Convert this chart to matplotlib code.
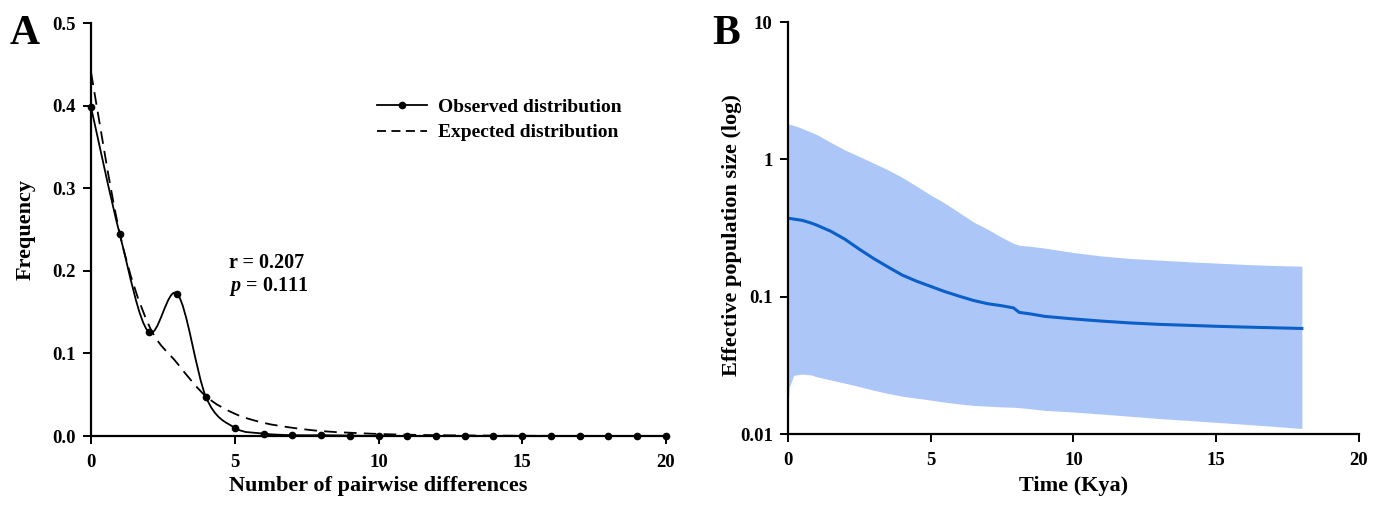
import numpy as np
import matplotlib
matplotlib.use("Agg")
import matplotlib.pyplot as plt
from matplotlib.path import Path
from matplotlib.patches import PathPatch
from matplotlib.lines import Line2D

plt.rcParams['font.family'] = ['Liberation Serif', 'DejaVu Serif']
plt.rcParams['font.weight'] = 'bold'
plt.rcParams['mathtext.fontset'] = 'custom'
plt.rcParams['mathtext.it'] = 'Liberation Serif:italic:bold'
plt.rcParams['mathtext.rm'] = 'Liberation Serif:bold'

# Panel A: mismatch distribution
diffs = list(range(21))
observed = [0.398, 0.244, 0.126, 0.172, 0.047, 0.010, 0.003, 0.001, 0.001, 0.0005,
            0.0, 0.0, 0.0, 0.0, 0.0, 0.0, 0.0, 0.0, 0.0, 0.0, 0.0]
expected = [0.44, 0.245, 0.135, 0.088, 0.048, 0.027, 0.016, 0.010, 0.006, 0.004,
            0.0025, 0.0016, 0.001, 0.0007, 0.0005, 0.0003, 0.0002, 0.0001, 0.0001, 0.0, 0.0]
r_value = 0.207
p_value = 0.111

# Panel B: Bayesian skyline (Kya, effective population size)
time_kya = [0.0, 0.05, 0.2, 0.5, 0.8, 1.0, 1.5, 2.0, 2.5, 3.0, 3.5, 4.0, 4.5, 5.0, 5.5,
            6.0, 6.5, 7.0, 7.5, 7.9, 8.1, 8.5, 9.0, 10.0, 11.0, 12.0, 13.0, 14.0,
            15.0, 16.0, 17.0, 18.0]
median_ne = [0.374, 0.372, 0.368, 0.360, 0.345, 0.333, 0.300, 0.262, 0.222, 0.190, 0.165,
             0.144, 0.130, 0.119, 0.109, 0.101, 0.094, 0.089, 0.086, 0.083, 0.077, 0.075,
             0.072, 0.069, 0.0665, 0.0645, 0.063, 0.062, 0.061, 0.0602, 0.0595, 0.0588]
upper_ne = [1.81, 1.80, 1.77, 1.68, 1.58, 1.52, 1.33, 1.17, 1.05, 0.94, 0.84, 0.74, 0.64,
            0.55, 0.48, 0.41, 0.35, 0.31, 0.27, 0.245, 0.237, 0.233, 0.226, 0.210, 0.198,
            0.190, 0.185, 0.180, 0.176, 0.172, 0.169, 0.167]
lower_ne = [0.0163, 0.022, 0.0268, 0.0274, 0.0270, 0.0262, 0.0248, 0.0235, 0.0222, 0.0209,
            0.0198, 0.0189, 0.0183, 0.0177, 0.0171, 0.0166, 0.0162, 0.0160, 0.0158, 0.0157,
            0.0156, 0.0153, 0.0149, 0.0145, 0.0140, 0.0135, 0.0130, 0.0126, 0.0122,
            0.0118, 0.0114, 0.0110]


def smooth_path(xs, ys):
    # Catmull-Rom style smoothing drawn as cubic Bezier segments
    pts = np.column_stack([xs, ys]).astype(float)
    verts = [pts[0]]
    codes = [Path.MOVETO]
    n = len(pts)
    for i in range(n - 1):
        p0 = pts[i - 1] if i > 0 else pts[i]
        p1 = pts[i]
        p2 = pts[i + 1]
        p3 = pts[i + 2] if i + 2 < n else pts[i + 1]
        c1 = p1 + (p2 - p0) / 6.0
        c2 = p2 - (p3 - p1) / 6.0
        verts += [c1, c2, p2]
        codes += [Path.CURVE4] * 3
    return Path(verts, codes)


TICK_FS = 13.5
LABEL_FS = 16

fig = plt.figure(figsize=(13.86, 5.12), dpi=100)
axA = fig.add_axes([0.0657, 0.1484, 0.4148, 0.8066])
axB = fig.add_axes([0.5685, 0.152, 0.412, 0.805])

for ax in (axA, axB):
    ax.spines['top'].set_visible(False)
    ax.spines['right'].set_visible(False)
    ax.spines['left'].set_linewidth(1.6)
    ax.spines['bottom'].set_linewidth(1.6)
    ax.tick_params(direction='out', length=6, width=1.4)
    ax.tick_params(axis='x', pad=7)
    ax.tick_params(axis='y', pad=5)

# --- Panel A ---
axA.add_patch(PathPatch(smooth_path(diffs, observed), fill=False, lw=1.3, color='black'))
axA.add_patch(PathPatch(smooth_path(diffs, expected), fill=False, lw=1.3, color='black',
                        linestyle=(0, (7, 4))))
axA.plot(diffs, observed, 'o', color='black', ms=4.5, clip_on=False, zorder=3)
axA.set_xlim(0, 20)
axA.set_ylim(0, 0.5)
axA.set_xticks([0, 5, 10, 15, 20])
axA.set_yticks([0.0, 0.1, 0.2, 0.3, 0.4, 0.5])
axA.set_yticklabels(['0.0', '0.1', '0.2', '0.3', '0.4', '0.5'], fontweight='bold', fontsize=TICK_FS)
axA.set_xticklabels(['0', '5', '10', '15', '20'], fontweight='bold', fontsize=TICK_FS)
axA.set_xlabel('Number of pairwise differences', fontsize=LABEL_FS, fontweight='bold')
axA.set_ylabel('Frequency', fontsize=LABEL_FS, fontweight='bold')
axA.xaxis.set_label_coords(0.5, -0.097)
axA.yaxis.set_label_coords(-0.097, 0.5)
axA.text(4.8, 0.203, f'r = {r_value:.3f}', fontsize=14.5, fontweight='bold')
axA.text(4.8, 0.175, rf'$\it{{p}}$ = {p_value:.3f}', fontsize=14.5, fontweight='bold')

handles = [Line2D([], [], color='black', lw=1.3, marker='o', ms=4.5),
           Line2D([], [], color='black', lw=1.3, linestyle=(0, (5, 3)))]
axA.legend(handles, ['Observed distribution', 'Expected distribution'],
           loc='upper right', bbox_to_anchor=(0.953, 0.86), frameon=False,
           handlelength=2.6, handletextpad=0.55, labelspacing=0.4,
           prop={'weight': 'bold', 'size': 14})
fig.text(0.007, 0.915, 'A', fontsize=30, fontweight='bold')

# --- Panel B ---
axB.fill_between(time_kya, lower_ne, upper_ne, color='#adc6f8', lw=0)
axB.plot(time_kya, median_ne, color='#0a5fc9', lw=2.2)
axB.set_yscale('log')
axB.set_xlim(0, 20)
axB.set_ylim(0.01, 10)
axB.set_xticks([0, 5, 10, 15, 20])
axB.set_xticklabels(['0', '5', '10', '15', '20'], fontweight='bold', fontsize=TICK_FS)
axB.set_yticks([0.01, 0.1, 1, 10])
axB.set_yticklabels(['0.01', '0.1', '1', '10'], fontweight='bold', fontsize=TICK_FS)
axB.minorticks_off()
axB.set_xlabel('Time (Kya)', fontsize=LABEL_FS, fontweight='bold')
axB.set_ylabel('Effective population size (log)', fontsize=LABEL_FS, fontweight='bold')
axB.xaxis.set_label_coords(0.5, -0.102)
axB.yaxis.set_label_coords(-0.08, 0.483)
fig.text(0.514, 0.915, 'B', fontsize=30, fontweight='bold')

fig.savefig('out.png', dpi=100)
